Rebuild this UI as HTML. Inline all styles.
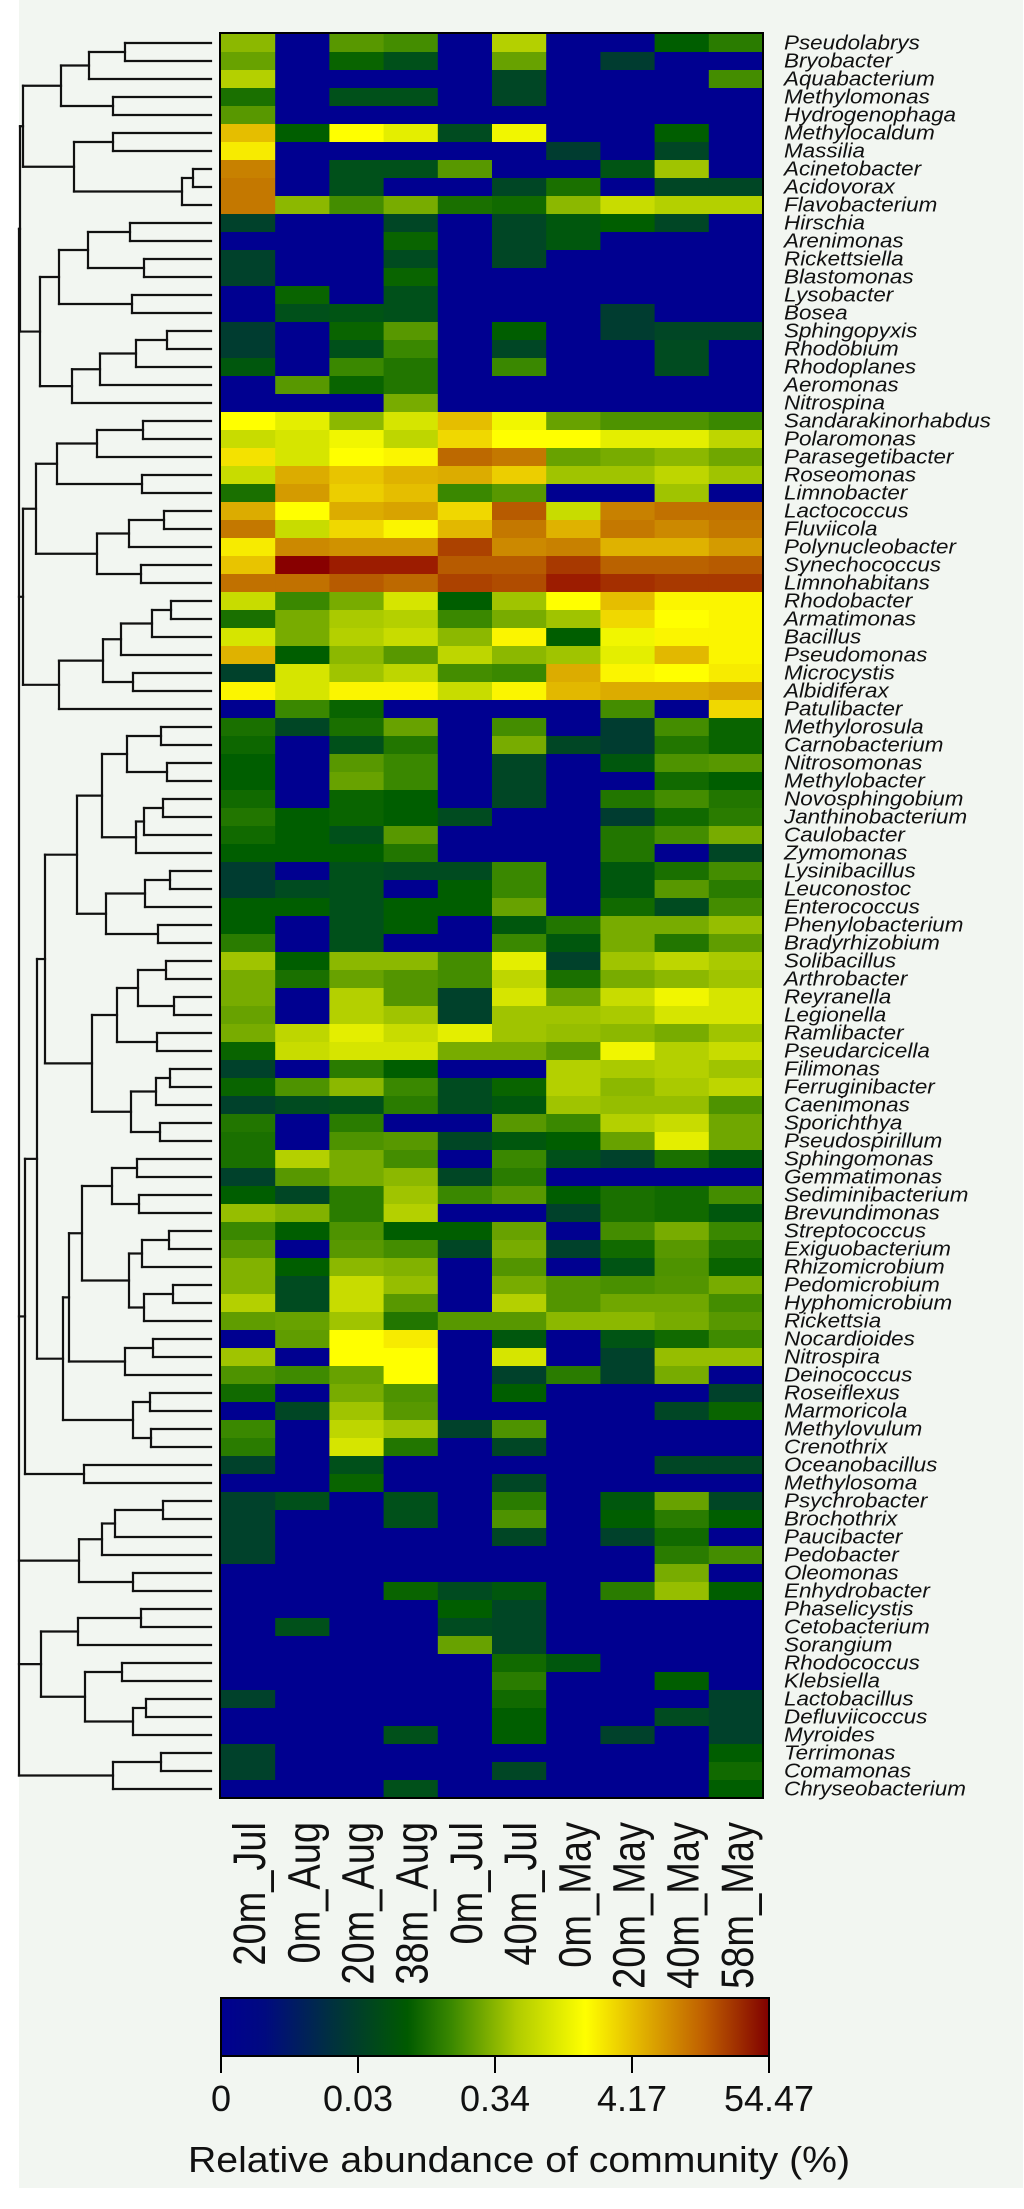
<!DOCTYPE html>
<html><head><meta charset="utf-8">
<style>
html,body{margin:0;padding:0;background:#fff;}
svg{display:block;}
</style></head>
<body>
<svg id="chart" width="1024" height="2209" viewBox="0 0 1024 2209" xmlns="http://www.w3.org/2000/svg">
<defs>
<linearGradient id="cbgrad" x1="0" x2="1" y1="0" y2="0">
<stop offset="0" stop-color="#000090"/>
<stop offset="0.08" stop-color="#000a80"/>
<stop offset="0.2" stop-color="#003040"/>
<stop offset="0.34" stop-color="#005a00"/>
<stop offset="0.42" stop-color="#3a8800"/>
<stop offset="0.54" stop-color="#b0cc00"/>
<stop offset="0.665" stop-color="#ffff00"/>
<stop offset="0.77" stop-color="#e0b000"/>
<stop offset="0.88" stop-color="#c06000"/>
<stop offset="1" stop-color="#800000"/>
</linearGradient>
</defs>
<rect x="19" y="0" width="1004" height="2188" fill="#f2f6f1"/>
<g id="dendro"></g>
<g id="cells"></g>
<rect x="220" y="33" width="543" height="1765" fill="none" stroke="#000" stroke-width="2"/>
<g id="rowlabels" font-family="Liberation Sans, sans-serif" font-style="italic" font-size="19" fill="#111"></g>
<g id="collabels" font-family="Liberation Sans, sans-serif" font-size="38" fill="#111"></g>
<g>
<rect x="221" y="1998" width="548" height="58" fill="url(#cbgrad)" stroke="#000" stroke-width="2"/>
<g id="cbticks" font-family="Liberation Sans, sans-serif" font-size="36" fill="#111"></g>
<text x="188" y="2172" font-family="Liberation Sans, sans-serif" font-size="36" textLength="662" lengthAdjust="spacingAndGlyphs" fill="#111">Relative abundance of community (%)</text>
</g>
</svg>
<script>
const columns = ["20m_Jul","0m_Aug","20m_Aug","38m_Aug","0m_Jul","40m_Jul","0m_May","20m_May","40m_May","58m_May"];
const taxa = ["Pseudolabrys","Bryobacter","Aquabacterium","Methylomonas","Hydrogenophaga","Methylocaldum","Massilia","Acinetobacter","Acidovorax","Flavobacterium","Hirschia","Arenimonas","Rickettsiella","Blastomonas","Lysobacter","Bosea","Sphingopyxis","Rhodobium","Rhodoplanes","Aeromonas","Nitrospina","Sandarakinorhabdus","Polaromonas","Parasegetibacter","Roseomonas","Limnobacter","Lactococcus","Fluviicola","Polynucleobacter","Synechococcus","Limnohabitans","Rhodobacter","Armatimonas","Bacillus","Pseudomonas","Microcystis","Albidiferax","Patulibacter","Methylorosula","Carnobacterium","Nitrosomonas","Methylobacter","Novosphingobium","Janthinobacterium","Caulobacter","Zymomonas","Lysinibacillus","Leuconostoc","Enterococcus","Phenylobacterium","Bradyrhizobium","Solibacillus","Arthrobacter","Reyranella","Legionella","Ramlibacter","Pseudarcicella","Filimonas","Ferruginibacter","Caenimonas","Sporichthya","Pseudospirillum","Sphingomonas","Gemmatimonas","Sediminibacterium","Brevundimonas","Streptococcus","Exiguobacterium","Rhizomicrobium","Pedomicrobium","Hyphomicrobium","Rickettsia","Nocardioides","Nitrospira","Deinococcus","Roseiflexus","Marmoricola","Methylovulum","Crenothrix","Oceanobacillus","Methylosoma","Psychrobacter","Brochothrix","Paucibacter","Pedobacter","Oleomonas","Enhydrobacter","Phaselicystis","Cetobacterium","Sorangium","Rhodococcus","Klebsiella","Lactobacillus","Defluviicoccus","Myroides","Terrimonas","Comamonas","Chryseobacterium"];
// abundance score on the colour-scale (0 = absent ... 100 = max)
const scores = [
[60,0,54,50,0,64,0,0,38,46],[56,0,40,34,0,56,0,30,0,0],[64,0,0,0,0,32,0,0,0,50],[44,0,34,34,0,32,0,0,0,0],[54,0,0,0,0,0,0,0,0,0],
[77,38,70,68,33,69,0,0,38,0],[72,0,0,0,0,0,30,0,32,0],[85,0,34,34,54,0,0,35,62,0],[86,0,34,0,0,32,44,0,32,32],[86,60,50,58,44,42,60,66,64,64],
[31,0,0,32,0,32,36,38,32,0],[0,0,0,40,0,32,36,0,0,0],[31,0,0,33,0,32,0,0,0,0],[31,0,0,40,0,0,0,0,0,0],[0,40,0,34,0,0,0,0,0,0],
[0,34,35,34,0,0,0,30,0,0],[30,0,40,54,0,38,0,30,32,32],[30,0,34,48,0,32,0,0,33,0],[36,0,48,45,0,48,0,0,33,0],[0,54,40,45,0,0,0,0,0,0],
[0,0,0,58,0,0,0,0,0,0],[70,68,60,67,77,69,56,52,52,48],[66,67,69,65,74,70,70,68,68,65],[73,67,70,71,88,86,56,58,60,57],[66,80,76,79,80,75,62,62,65,62],
[44,82,75,77,48,54,0,0,62,0],[80,70,80,81,74,90,66,85,87,87],[86,66,74,71,78,86,79,86,84,86],[72,84,83,83,93,84,85,79,79,82],[76,100,97,97,90,90,94,89,89,90],
[87,87,90,88,93,92,97,95,94,94],[66,48,58,67,38,62,70,77,71,71],[44,58,63,64,48,58,62,74,70,71],[67,58,64,66,60,71,38,69,71,71],[79,38,60,54,65,60,62,68,78,71],
[31,67,62,65,50,48,80,71,70,72],[71,67,71,71,66,71,78,80,80,81],[0,48,40,0,0,0,0,50,0,74],[44,32,44,56,0,50,0,30,50,40],[41,0,34,45,0,58,32,30,45,40],
[38,0,54,48,0,32,0,36,52,54],[38,0,56,48,0,32,0,0,42,38],[42,0,40,38,0,32,0,45,50,45],[45,38,40,38,33,0,0,30,42,46],[42,38,34,54,0,0,0,45,50,58],
[38,38,38,45,0,0,0,45,0,32],[30,0,34,33,33,48,0,36,44,50],[30,33,34,0,38,48,0,36,54,46],[38,38,34,38,38,56,0,42,33,50],[38,0,34,38,0,36,45,58,58,61],
[46,0,34,0,0,48,36,58,45,55],[62,38,60,60,50,68,31,62,65,63],[58,44,56,53,50,65,44,58,60,62],[58,0,64,53,31,67,56,66,69,67],[56,0,64,62,31,62,62,63,67,67],
[58,65,68,66,68,62,61,60,58,62],[40,66,67,67,58,58,54,69,64,66],[31,0,46,38,0,0,64,63,64,62],[40,52,60,48,33,40,64,60,63,65],[31,33,34,46,33,36,62,61,61,52],
[45,0,46,0,0,54,48,64,66,57],[44,0,52,54,32,36,38,56,68,57],[44,64,58,50,0,48,34,31,44,36],[31,54,58,60,32,46,0,0,0,0],[38,32,46,62,48,54,38,44,42,50],
[61,59,46,64,0,0,31,44,42,36],[48,38,52,38,38,56,0,50,58,48],[54,0,54,50,32,58,31,42,54,45],[59,38,60,59,0,53,0,35,52,40],[59,33,66,61,0,58,53,51,53,58],
[64,33,66,54,0,64,53,57,57,50],[55,56,62,45,54,54,60,60,58,54],[0,55,70,72,0,36,0,35,42,49],[62,0,70,70,0,67,0,31,61,61],[52,49,56,70,0,31,46,31,58,0],
[42,0,58,52,0,38,0,0,0,31],[0,32,62,54,0,0,0,0,32,40],[48,0,65,62,31,52,0,0,0,0],[46,0,67,45,0,32,0,0,0,0],[31,0,34,0,0,0,0,0,32,32],
[0,0,40,0,0,32,0,0,0,0],[31,34,0,34,0,46,0,36,56,32],[31,0,0,34,0,52,0,38,46,38],[31,0,0,0,0,32,0,31,42,0],[31,0,0,0,0,0,0,0,46,50],
[0,0,0,0,0,0,0,0,58,0],[0,0,0,40,33,36,0,46,61,38],[0,0,0,0,38,32,0,0,0,0],[0,34,0,0,33,32,0,0,0,0],[0,0,0,0,56,32,0,0,0,0],
[0,0,0,0,0,42,36,0,0,0],[0,0,0,0,0,46,0,0,38,0],[31,0,0,0,0,42,0,0,0,31],[0,0,0,0,0,38,0,0,33,31],[0,0,0,34,0,38,0,31,0,31],
[31,0,0,0,0,0,0,0,0,38],[31,0,0,0,0,32,0,0,0,42],[0,0,0,34,0,0,0,0,0,38]
];
const tickLabels = ["0","0.03","0.34","4.17","54.47"];

const NS = "http://www.w3.org/2000/svg";
const X0 = 221, CW = 54.2, Y0 = 34, RH = 18;
function xScale(j){ return X0 + j*CW; }
function yScale(i){ return Y0 + i*RH; }
const stops = [[0,[0,0,144]],[30,[0,60,48]],[34,[0,80,26]],[38,[0,94,0]],[44,[26,112,0]],[48,[58,136,0]],[54,[88,152,0]],[58,[120,172,0]],[62,[160,196,0]],[66,[200,220,0]],[70,[255,255,0]],[76,[232,196,0]],[80,[220,172,0]],[86,[196,120,0]],[92,[176,76,0]],[97,[156,28,0]],[100,[136,0,0]]];
function color(v){
  if(v<=0) return "rgb(0,0,144)";
  for(let k=1;k<stops.length;k++){
    if(v<=stops[k][0]){
      const a=stops[k-1], b=stops[k], t=(v-a[0])/(b[0]-a[0]);
      const c=a[1].map((x,i)=>Math.round(x+(b[1][i]-x)*t));
      return "rgb("+c.join(",")+")";
    }
  }
  return "rgb(136,0,0)";
}
function mk(tag, attrs, parent){
  const el=document.createElementNS(NS,tag);
  for(const k in attrs) el.setAttribute(k,attrs[k]);
  parent.appendChild(el); return el;
}
const cells=document.getElementById('cells');
scores.forEach((row,i)=>{
  row.forEach((v,j)=>{
    const r=mk('rect',{x:xScale(j).toFixed(2),y:yScale(i),width:(CW+0.5).toFixed(2),height:RH+0.5,fill:color(v)},cells);
    
    
  });
});
const rl=document.getElementById('rowlabels');
taxa.forEach((t,i)=>{
  const y=(yScale(i)+RH/2+6.5).toFixed(1);
  const el=mk('text',{x:0,y:0,transform:'translate(784,'+y+') scale(1.18,1.05)'},rl);
  el.textContent=t;
  
  
});
const cl=document.getElementById('collabels');
columns.forEach((c,j)=>{
  const cx=xScale(j)+CW/2+17;
  const el=mk('text',{x:0,y:0,'text-anchor':'end',transform:'translate('+cx.toFixed(1)+',1822) rotate(-90) scale(1,1.2)'},cl);
  el.textContent=c;
  
  
});
const cb=document.getElementById('cbticks');
tickLabels.forEach((t,k)=>{
  const x=221+k*137;
  const ln=mk('line',{x1:x,x2:x,y1:2056,y2:2073,stroke:'#000','stroke-width':2},cb);
  
  
  const tx=mk('text',{x:x,y:2111,'text-anchor':'middle'},cb);
  tx.textContent=t;
  
  
});
// dendrogram: N(height-x, children...), leaves = row numbers (1-based)
function N(h,...c){ return {h:h,c:c}; }
const tree = N(19,
  N(20, N(23, N(61, N(89, N(125,1,2),3), N(113,4,5)), N(74, N(113,6,7), N(182, N(193,8,9),10))),
        N(40, N(59, N(88, N(130,11,12), N(144,13,14)), N(132,15,16)), N(72, N(100, N(136, N(167,17,18),19),20),21))),
  N(23, N(36, N(57, N(97, N(143,22,23),24), N(142,25,26)), N(97, N(129, N(164,27,28),29), N(141,30,31))),
        N(59, N(103, N(121, N(152, N(171,32,33),34),35), N(133,36,37)),38)),
  N(25, N(37, N(45, N(77, N(102, N(127, N(161,39,40), N(167,41,42)), N(136, N(144, N(163,43,44),45),46)),
                         N(106, N(145, N(170,47,48),49), N(158,50,51))),
                   N(92, N(117, N(138, N(166,52,53), N(174,54,55)), N(157,56,57)), N(131, N(156, N(170,58,59),60), N(160,61,62)))),
              N(63, N(69, N(82, N(112, N(137,63,64), N(139,65,66)), N(129, N(142, N(169,67,68),69), N(144, N(173,70,71),72))), N(125, N(153,73,74),75)),
                    N(133, N(150,76,77), N(151,78,79)))),
        N(84,80,81)),
  N(79, N(102, N(115, N(163,82,83),84),85), N(133,86,87)),
  N(41, N(78, N(141,88,89),90), N(85, N(122,91,92), N(133, N(146,93,94),95))),
  N(113, N(161,96,97),98)
);
const dg=document.getElementById('dendro');
function seg(x1,y1,x2,y2){
  const l=mk('line',{x1:x1,y1:y1,x2:x2,y2:y2,stroke:'#111','stroke-width':2.2,'stroke-linecap':'square'},dg);
  
  
}
function draw(n){
  if(typeof n==='number'){ return {x:211,y:yScale(n-1)+RH/2}; }
  const pts=n.c.map(draw);
  pts.forEach(p=>seg(n.h,p.y,p.x,p.y));
  const ys=pts.map(p=>p.y);
  const y1=Math.min(...ys), y2=Math.max(...ys);
  seg(n.h,y1,n.h,y2);
  return {x:n.h,y:(pts[0].y+pts[pts.length-1].y)/2};
}
draw(tree);
</script>
</body></html>
